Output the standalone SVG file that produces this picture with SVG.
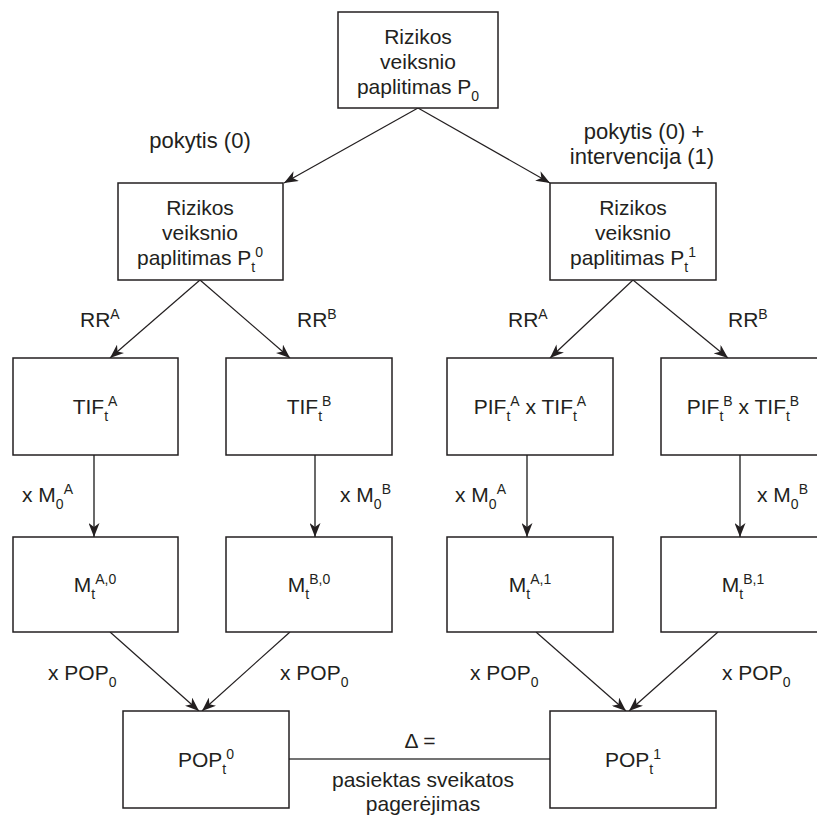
<svg xmlns="http://www.w3.org/2000/svg" width="817" height="817" viewBox="0 0 817 817">
<defs>
<marker id="ah" markerUnits="userSpaceOnUse" markerWidth="15" markerHeight="11" refX="14" refY="5.5" orient="auto">
<path d="M0,0 L14,5.5 L0,11 L4,5.5 Z" fill="#231f20"/>
</marker>
<style>
.box{fill:#fff;stroke:#231f20;stroke-width:1.5}
.t{font-family:"Liberation Sans",Arial,sans-serif;font-size:21px;fill:#231f20}
.m{text-anchor:middle}
.s{font-size:14px}
.l{font-size:22px}
.c{stroke:#231f20;stroke-width:1.2;fill:none;marker-end:url(#ah)}
.v{stroke:#444;stroke-width:1.6;fill:none;marker-end:url(#ah)}
</style>
</defs>
<rect width="817" height="817" fill="#fff"/>
<g id="connectors">
<line class="c" x1="418" y1="108" x2="284" y2="183"/>
<line class="c" x1="418" y1="108" x2="550" y2="183"/>
<line class="c" x1="200" y1="280" x2="110" y2="358"/>
<line class="c" x1="200" y1="280" x2="290" y2="358"/>
<line class="c" x1="633" y1="280" x2="550" y2="358"/>
<line class="c" x1="633" y1="280" x2="728" y2="358"/>
<line class="v" x1="94" y1="455" x2="94" y2="537"/>
<line class="v" x1="315" y1="455" x2="315" y2="537"/>
<line class="v" x1="527" y1="455" x2="527" y2="537"/>
<line class="v" x1="740" y1="455" x2="740" y2="537"/>
<line class="c" x1="110" y1="632" x2="199" y2="711"/>
<line class="c" x1="290" y1="632" x2="202" y2="711"/>
<line class="c" x1="536" y1="632" x2="626" y2="711"/>
<line class="c" x1="718" y1="632" x2="629" y2="711"/>
<line x1="289" y1="759" x2="550" y2="759" stroke="#444" stroke-width="1.6"/>
</g>
<g id="labels" class="t">
<text class="t m l" x="200" y="148">pokytis (0)</text>
<text class="t m l" x="644" y="139">pokytis (0) +</text>
<text class="t m l" x="642" y="164">intervencija (1)</text>
<text class="t" x="80" y="327">RR<tspan class="s" dy="-8">A</tspan></text>
<text class="t" x="297" y="327">RR<tspan class="s" dy="-8">B</tspan></text>
<text class="t" x="508" y="327">RR<tspan class="s" dy="-8">A</tspan></text>
<text class="t" x="728" y="327">RR<tspan class="s" dy="-8">B</tspan></text>
<text class="t" x="22" y="502">x M<tspan class="s" dy="7">0</tspan><tspan class="s" dy="-15">A</tspan></text>
<text class="t" x="340" y="502">x M<tspan class="s" dy="7">0</tspan><tspan class="s" dy="-15">B</tspan></text>
<text class="t" x="455" y="502">x M<tspan class="s" dy="7">0</tspan><tspan class="s" dy="-15">A</tspan></text>
<text class="t" x="757" y="502">x M<tspan class="s" dy="7">0</tspan><tspan class="s" dy="-15">B</tspan></text>
<text class="t" x="48" y="680">x POP<tspan class="s" dy="7">0</tspan></text>
<text class="t" x="280" y="680">x POP<tspan class="s" dy="7">0</tspan></text>
<text class="t" x="470" y="680">x POP<tspan class="s" dy="7">0</tspan></text>
<text class="t" x="722" y="680">x POP<tspan class="s" dy="7">0</tspan></text>
<text class="t m" x="420" y="748">Δ =</text>
<text class="t m" x="423" y="787">pasiektas sveikatos</text>
<text class="t m" x="423" y="811">pagerėjimas</text>
</g>
<g id="n_top">
<rect class="box" x="338" y="12" width="160" height="96"/>
<text class="t m" x="418" y="44">Rizikos</text>
<text class="t m" x="418" y="69">veiksnio</text>
<text class="t m" x="418" y="94">paplitimas P<tspan class="s" dy="7">0</tspan></text>
</g>
<g id="n_p0">
<rect class="box" x="118" y="183" width="165" height="97"/>
<text class="t m" x="200" y="215">Rizikos</text>
<text class="t m" x="200" y="240">veiksnio</text>
<text class="t m" x="200" y="265">paplitimas P<tspan class="s" dy="7">t</tspan><tspan class="s" dy="-15">0</tspan></text>
</g>
<g id="n_p1">
<rect class="box" x="550" y="183" width="166" height="97"/>
<text class="t m" x="633" y="215">Rizikos</text>
<text class="t m" x="633" y="240">veiksnio</text>
<text class="t m" x="633" y="265">paplitimas P<tspan class="s" dy="7">t</tspan><tspan class="s" dy="-15">1</tspan></text>
</g>
<g id="n_tifA">
<rect class="box" x="13" y="358" width="165" height="97"/>
<text class="t m" x="95" y="414">TIF<tspan class="s" dy="7">t</tspan><tspan class="s" dy="-15">A</tspan></text>
</g>
<g id="n_tifB">
<rect class="box" x="226" y="358" width="166" height="97"/>
<text class="t m" x="309" y="414">TIF<tspan class="s" dy="7">t</tspan><tspan class="s" dy="-15">B</tspan></text>
</g>
<g id="n_pifA">
<rect class="box" x="447" y="358" width="166" height="97"/>
<text class="t m" x="530" y="414">PIF<tspan class="s" dy="7">t</tspan><tspan class="s" dy="-15">A</tspan><tspan dy="8">  x TIF</tspan><tspan class="s" dy="7">t</tspan><tspan class="s" dy="-15">A</tspan></text>
</g>
<g id="n_pifB">
<rect class="box" x="661" y="358" width="166" height="97"/>
<text class="t m" x="743" y="414">PIF<tspan class="s" dy="7">t</tspan><tspan class="s" dy="-15">B</tspan><tspan dy="8">  x TIF</tspan><tspan class="s" dy="7">t</tspan><tspan class="s" dy="-15">B</tspan></text>
</g>
<g id="n_mA0">
<rect class="box" x="13" y="537" width="165" height="95"/>
<text class="t m" x="95" y="592">M<tspan class="s" dy="7">t</tspan><tspan class="s" dy="-15">A,0</tspan></text>
</g>
<g id="n_mB0">
<rect class="box" x="226" y="537" width="166" height="95"/>
<text class="t m" x="309" y="592">M<tspan class="s" dy="7">t</tspan><tspan class="s" dy="-15">B,0</tspan></text>
</g>
<g id="n_mA1">
<rect class="box" x="447" y="537" width="166" height="95"/>
<text class="t m" x="530" y="592">M<tspan class="s" dy="7">t</tspan><tspan class="s" dy="-15">A,1</tspan></text>
</g>
<g id="n_mB1">
<rect class="box" x="661" y="537" width="166" height="95"/>
<text class="t m" x="743" y="592">M<tspan class="s" dy="7">t</tspan><tspan class="s" dy="-15">B,1</tspan></text>
</g>
<g id="n_pop0">
<rect class="box" x="123" y="711" width="166" height="97"/>
<text class="t m" x="206" y="767">POP<tspan class="s" dy="7">t</tspan><tspan class="s" dy="-15">0</tspan></text>
</g>
<g id="n_pop1">
<rect class="box" x="550" y="711" width="166" height="97"/>
<text class="t m" x="633" y="767">POP<tspan class="s" dy="7">t</tspan><tspan class="s" dy="-15">1</tspan></text>
</g>
</svg>
